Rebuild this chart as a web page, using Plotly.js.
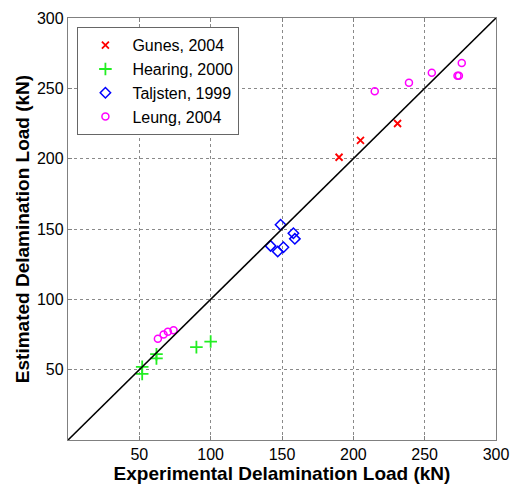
<!DOCTYPE html>
<html>
<head>
<meta charset="utf-8">
<script src="https://cdn.plot.ly/plotly-3.0.1.min.js"></script>
<style>html,body{margin:0;padding:0;background:#fff;}#chart{width:515px;height:484px;}</style>
</head>
<body>
<div id="chart"></div>
<script>
// Data
const gunesX = [190, 205, 231];
const gunesY = [201, 213, 225];
const hearingX = [52, 52, 62, 62, 90, 100];
const hearingY = [52, 47, 58, 61, 66, 70];
const taljstenX = [142, 147, 149, 151, 158, 159];
const taljstenY = [138, 134, 153, 137, 147, 143];
const leungX = [63, 67, 70, 74, 215, 239, 255, 273, 274, 276];
const leungY = [72, 75, 77, 78, 248, 254, 261, 259, 259, 268];
const lineX = [0, 300];
const lineY = [0, 300];
const tickVals = [50, 100, 150, 200, 250, 300];

const FONT = 'Arial, Liberation Sans, sans-serif';

const traces = [
  {x: gunesX, y: gunesY, name: 'Gunes, 2004', mode: 'markers', type: 'scatter',
   marker: {symbol: 'x-thin', size: 7, line: {color: '#ff0000', width: 1.8}, color: '#ff0000'}},
  {x: hearingX, y: hearingY, name: 'Hearing, 2000', mode: 'markers', type: 'scatter',
   marker: {symbol: 'cross-thin', size: 9, line: {color: '#22ee22', width: 1.8}, color: '#22ee22'}},
  {x: taljstenX, y: taljstenY, name: 'Taljsten, 1999', mode: 'markers', type: 'scatter',
   marker: {symbol: 'diamond-open', size: 8, color: '#0000ff', line: {width: 1.5}}},
  {x: leungX, y: leungY, name: 'Leung, 2004', mode: 'markers', type: 'scatter',
   marker: {symbol: 'circle-open', size: 7, color: '#ff00ff', line: {width: 1.5}}},
  {x: lineX, y: lineY, mode: 'lines', type: 'scatter', showlegend: false,
   line: {color: '#000000', width: 1.6}, hoverinfo: 'skip'}
];

const axisCommon = {
  range: [0, 300], tickvals: tickVals, ticktext: tickVals.map(String),
  showgrid: true, gridcolor: '#8a8a8a', griddash: 'dot', gridwidth: 1,
  showline: true, linecolor: '#808080', linewidth: 1.2, mirror: 'ticks',
  ticks: 'inside', ticklen: 4, tickcolor: '#808080',
  zeroline: false, tickfont: {family: FONT, size: 16, color: '#000'}
};

const layout = {
  width: 515, height: 484,
  margin: {l: 68, r: 19, t: 18, b: 44},
  paper_bgcolor: '#fff', plot_bgcolor: '#fff',
  showlegend: true,
  legend: {x: 0.022, y: 0.978, xanchor: 'left', yanchor: 'top',
    bgcolor: '#fff', bordercolor: '#666', borderwidth: 1,
    font: {family: FONT, size: 16, color: '#000'},
    tracegroupgap: 0, itemwidth: 44},
  xaxis: Object.assign({}, axisCommon, {
    title: {text: '<b>Experimental Delamination Load (kN)</b>', standoff: 4,
      font: {family: FONT, size: 19, color: '#000'}}
  }),
  yaxis: Object.assign({}, axisCommon, {
    title: {text: '<b>Estimated Delamination Load (kN)</b>', standoff: 2,
      font: {family: FONT, size: 19, color: '#000'}}
  })
};

Plotly.newPlot('chart', traces, layout, {displayModeBar: false, staticPlot: true});
</script>
</body>
</html>
